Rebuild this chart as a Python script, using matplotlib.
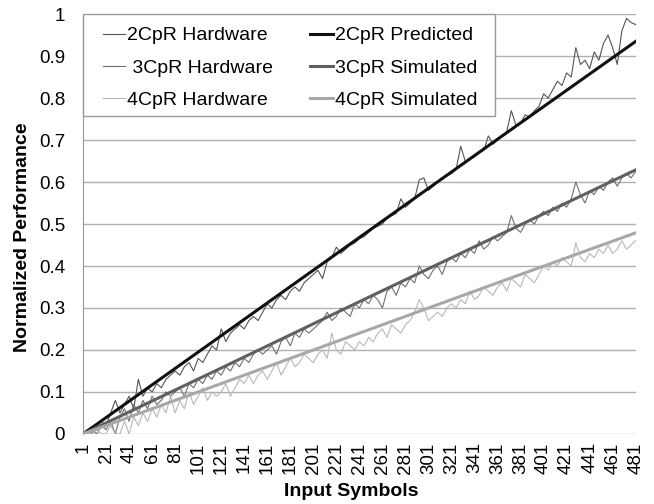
import matplotlib
matplotlib.use("Agg")
import matplotlib.pyplot as plt
from matplotlib.patches import Rectangle
from matplotlib.ticker import FuncFormatter

plt.rcParams["font.family"] = ["Liberation Sans", "DejaVu Sans"]

symbols = list(range(1, 482, 4))

hw_2cpr = [
    0.00, 0.01, 0.00, 0.02, 0.03, 0.02, 0.05, 0.08, 0.05, 0.07,
    0.09, 0.06, 0.13, 0.09, 0.11, 0.10, 0.12, 0.11, 0.13, 0.14,
    0.15, 0.14, 0.16, 0.17, 0.15, 0.18, 0.17, 0.19, 0.21, 0.20,
    0.25, 0.22, 0.24, 0.25, 0.26, 0.25, 0.27, 0.28, 0.27, 0.29,
    0.31, 0.30, 0.32, 0.33, 0.32, 0.34, 0.35, 0.34, 0.36, 0.37,
    0.38, 0.39, 0.37, 0.41, 0.42, 0.445, 0.43, 0.44, 0.45, 0.455,
    0.465, 0.47, 0.48, 0.49, 0.495, 0.50, 0.515, 0.52, 0.525, 0.56,
    0.54, 0.55, 0.56, 0.605, 0.61, 0.58, 0.59, 0.60, 0.61, 0.615,
    0.62, 0.63, 0.685, 0.65, 0.655, 0.66, 0.67, 0.675, 0.71, 0.69,
    0.70, 0.71, 0.72, 0.77, 0.735, 0.74, 0.76, 0.755, 0.77, 0.78,
    0.81, 0.80, 0.82, 0.84, 0.83, 0.86, 0.85, 0.92, 0.88, 0.89,
    0.87, 0.91, 0.89, 0.93, 0.95, 0.92, 0.88, 0.96, 0.99, 0.98,
    0.975,
]

hw_3cpr = [
    0.00, 0.00, 0.01, 0.00, 0.02, 0.01, 0.03, 0.00, 0.04, 0.06,
    0.03, 0.07, 0.05, 0.08, 0.06, 0.09, 0.07, 0.08, 0.10, 0.09,
    0.10, 0.11, 0.09, 0.12, 0.11, 0.13, 0.12, 0.14, 0.13, 0.15,
    0.14, 0.16, 0.15, 0.17, 0.16, 0.18, 0.17, 0.19, 0.20, 0.19,
    0.20, 0.21, 0.19, 0.22, 0.23, 0.21, 0.24, 0.23, 0.25, 0.24,
    0.25, 0.26, 0.27, 0.29, 0.27, 0.28, 0.30, 0.29, 0.28, 0.31,
    0.30, 0.32, 0.31, 0.33, 0.32, 0.30, 0.34, 0.35, 0.33, 0.36,
    0.35, 0.37, 0.36, 0.40, 0.38, 0.37, 0.39, 0.40, 0.38, 0.41,
    0.42, 0.41, 0.43, 0.42, 0.44, 0.43, 0.46, 0.44, 0.45, 0.47,
    0.46, 0.47, 0.48, 0.52, 0.49, 0.48, 0.50, 0.51, 0.50, 0.52,
    0.53, 0.52, 0.54, 0.53, 0.55, 0.54, 0.56, 0.60, 0.57, 0.55,
    0.58, 0.57, 0.59, 0.58, 0.60, 0.61, 0.59, 0.61, 0.62, 0.61,
    0.625,
]

hw_4cpr = [
    0.00, 0.00, 0.00, 0.01, 0.00, 0.00, 0.02, 0.00, 0.00, 0.03,
    0.00, 0.04, 0.02, 0.05, 0.03, 0.06, 0.04, 0.07, 0.05, 0.09,
    0.05, 0.08, 0.06, 0.10, 0.07, 0.09, 0.11, 0.08, 0.10, 0.09,
    0.10, 0.12, 0.09, 0.11, 0.13, 0.12, 0.14, 0.12, 0.14, 0.15,
    0.13, 0.15, 0.17, 0.14, 0.16, 0.18, 0.16, 0.17, 0.19, 0.18,
    0.17, 0.19, 0.20, 0.18, 0.24, 0.20, 0.19, 0.22, 0.21, 0.20,
    0.22, 0.21, 0.23, 0.22, 0.24, 0.25, 0.23, 0.26, 0.25, 0.24,
    0.26, 0.27, 0.29, 0.32, 0.30, 0.27, 0.28, 0.29, 0.28, 0.30,
    0.31, 0.30, 0.32, 0.31, 0.34, 0.32, 0.33, 0.35, 0.34, 0.33,
    0.35, 0.36, 0.34, 0.37, 0.36, 0.35, 0.38, 0.37, 0.36, 0.38,
    0.40, 0.39, 0.41, 0.40, 0.42, 0.41, 0.40, 0.455, 0.42, 0.41,
    0.43, 0.42, 0.44, 0.43, 0.45, 0.43, 0.44, 0.46, 0.44, 0.45,
    0.46,
]

# model curves, read at a few symbols
model_symbols = [1, 121, 241, 361, 481]
pred_2cpr = [0.0, 0.234, 0.468, 0.702, 0.935]
sim_3cpr = [0.0, 0.157, 0.315, 0.472, 0.629]
sim_4cpr = [0.0, 0.120, 0.240, 0.360, 0.479]

xticks = list(range(1, 482, 20))
yticks = [i / 10 for i in range(11)]

fig = plt.figure(figsize=(6.54, 5.04), dpi=100)
ax = fig.add_axes([0.127, 0.139, 0.845, 0.833])

l1, = ax.plot(symbols, hw_2cpr, color="#555555", lw=0.8, label="2CpR Hardware")
l2, = ax.plot(symbols, hw_3cpr, color="#707070", lw=0.8, label=" 3CpR Hardware")
l3, = ax.plot(symbols, hw_4cpr, color="#b8b8b8", lw=0.8, label="4CpR Hardware")
l4, = ax.plot(model_symbols, pred_2cpr, color="#111111", lw=2.2, label="2CpR Predicted")
l5, = ax.plot(model_symbols, sim_3cpr, color="#606060", lw=2.2, label="3CpR Simulated")
l6, = ax.plot(model_symbols, sim_4cpr, color="#a8a8a8", lw=2.2, label="4CpR Simulated")

ax.set_xlim(1, 481)
ax.set_ylim(0, 1)
ax.set_xticks(xticks)
ax.set_yticks(yticks)
ax.yaxis.set_major_formatter(FuncFormatter(lambda v, p: f"{v:g}"))
ax.tick_params(axis="x", length=0, pad=6, labelsize=13.5, labelrotation=90)
ax.tick_params(axis="y", length=0, pad=13, labelsize=13.5)
ax.grid(axis="y", color="#b0b0b0", lw=1)
ax.set_axisbelow(True)
for side in ("top", "right", "bottom"):
    ax.spines[side].set_visible(False)
ax.spines["left"].set_color("#999999")

ax.set_xlabel("Input Symbols", fontsize=14, fontweight="bold")
ax.set_ylabel("Normalized Performance", fontsize=14, fontweight="bold")
ax.xaxis.set_label_coords(0.485, -0.118)
ax.yaxis.set_label_coords(-0.095, 0.469)

# legend box: white panel with a gray edge, entries placed inside it
ax.add_patch(Rectangle((0, 0.757), 0.745, 0.243, transform=ax.transAxes,
                       facecolor="white", edgecolor="#999999", lw=1,
                       zorder=4, clip_on=False))
leg = ax.legend(handles=[l1, l2, l3, l4, l5, l6], ncol=2, loc="upper left",
                bbox_to_anchor=(0.036, 0.970), borderaxespad=0, borderpad=0,
                fontsize=14, handlelength=1.15, handletextpad=0.1,
                labelspacing=0.75, columnspacing=1.9, frameon=False)
leg.set_zorder(5)

fig.savefig("out.png", dpi=100)
